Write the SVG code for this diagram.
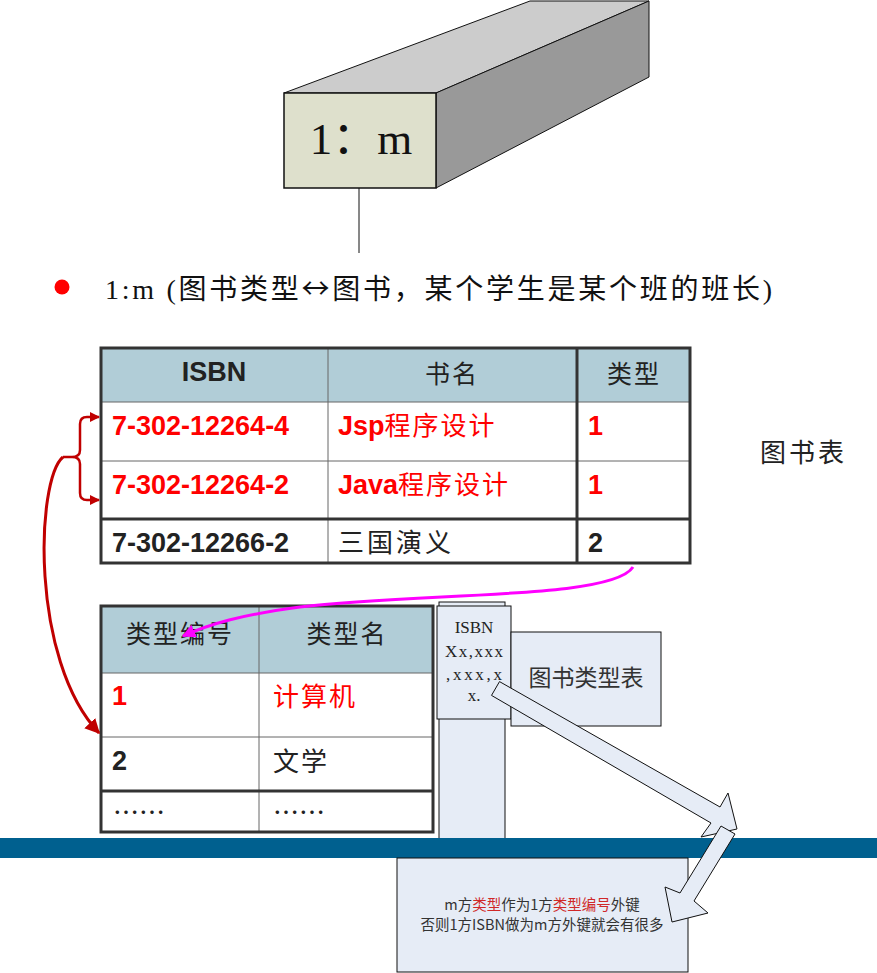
<svg xmlns="http://www.w3.org/2000/svg" width="877" height="973" viewBox="0 0 877 973">
<style>
.cjk{font-family:"Noto Sans CJK SC","Noto Sans",sans-serif}
.num{font-family:"Liberation Sans",Arial,"Noto Sans CJK SC",sans-serif;font-weight:bold;font-size:27px}
.red{fill:#ff0000}
.dark{fill:#222222}
.hdr{fill:#b1cdd7}
.thin{stroke:#666666;stroke-width:1;fill:none}
.thick{stroke:#333333;stroke-width:3;fill:none}
.pale{fill:#e6ecf6;stroke:#111111;stroke-width:1}
.ser{font-family:"Liberation Serif","Times New Roman","Noto Sans CJK SC",serif}
.note{font-family:"Noto Sans CJK SC","Noto Sans",sans-serif;font-size:14.5px;fill:#333333}
.nred{fill:#d02828}
</style>
<defs>
<marker id="arrRed" viewBox="0 0 10 10" refX="9" refY="5" markerWidth="5" markerHeight="5" orient="auto" markerUnits="strokeWidth">
<path d="M0,0 L10,5 L0,10 Z" fill="#c00000"/>
</marker>
<marker id="arrRedS" viewBox="0 0 10 10" refX="9" refY="5" markerWidth="4" markerHeight="4" orient="auto" markerUnits="strokeWidth">
<path d="M0,0 L10,5 L0,10 Z" fill="#c00000"/>
</marker>
<marker id="arrMag" viewBox="0 0 10 10" refX="9" refY="5" markerWidth="4.5" markerHeight="4.5" orient="auto" markerUnits="strokeWidth">
<path d="M0,0 L10,5 L0,10 Z" fill="#ff00ff"/>
</marker>
</defs>
<rect width="877" height="973" fill="#ffffff"/>

<g id="prism">
<polygon points="284,93 436,93 649,1 530,1" fill="#cccccc" stroke="#111" stroke-width="1"/>
<polygon points="436,93 649,1 649,77 436,188" fill="#999999" stroke="#111" stroke-width="1"/>
<rect x="284" y="93" width="152" height="95" fill="#dee0cc" stroke="#111" stroke-width="1.5"/>
<text x="361" y="154" text-anchor="middle" class="ser" font-size="45" fill="#111">1：m</text>
<line x1="359" y1="188" x2="359" y2="253" stroke="#111" stroke-width="1"/>
</g>

<g id="bullet">
<circle cx="62" cy="287" r="7.5" fill="#ff0000"/>
<text x="105" y="299" class="ser" font-size="28" fill="#111" textLength="667" lengthAdjust="spacing">1:m (图书类型<tspan class="cjk">↔</tspan>图书，某个学生是某个班的班长)</text>
</g>

<g id="table-books">
<rect x="101" y="348" width="589" height="54" class="hdr"/>
<rect x="101" y="402" width="589" height="161" fill="#ffffff"/>
<line x1="101" y1="402" x2="690" y2="402" class="thin"/>
<line x1="101" y1="461" x2="690" y2="461" class="thin"/>
<line x1="328" y1="348" x2="328" y2="563" class="thin"/>
<line x1="101" y1="519" x2="690" y2="519" class="thick"/>
<line x1="577" y1="348" x2="577" y2="563" class="thick"/>
<rect x="101" y="348" width="589" height="215" class="thick"/>
<text x="214" y="381" text-anchor="middle" class="num dark">ISBN</text>
<text x="452" y="383" text-anchor="middle" class="cjk dark" font-size="25" letter-spacing="2">书名</text>
<text x="634" y="383" text-anchor="middle" class="cjk dark" font-size="25" letter-spacing="2">类型</text>
<text x="112" y="435" class="num red">7-302-12264-4</text>
<text x="338" y="435" class="num red">Jsp<tspan class="cjk" font-weight="normal" font-size="26" letter-spacing="2">程序设计</tspan></text>
<text x="588" y="435" class="num red">1</text>
<text x="112" y="494" class="num red">7-302-12264-2</text>
<text x="338" y="494" class="num red">Java<tspan class="cjk" font-weight="normal" font-size="26" letter-spacing="2">程序设计</tspan></text>
<text x="588" y="494" class="num red">1</text>
<text x="112" y="552" class="num dark">7-302-12266-2</text>
<text x="338" y="552" class="cjk dark" font-size="26" letter-spacing="3">三国演义</text>
<text x="588" y="552" class="num dark">2</text>
</g>

<g id="label-books">
<text x="760" y="462" class="cjk dark" font-size="26" letter-spacing="3">图书表</text>
</g>

<g id="table-types">
<rect x="101" y="606" width="332" height="67" class="hdr"/>
<rect x="101" y="673" width="332" height="159" fill="#ffffff"/>
<line x1="101" y1="673" x2="433" y2="673" class="thin"/>
<line x1="101" y1="737" x2="433" y2="737" class="thin"/>
<line x1="259" y1="606" x2="259" y2="832" class="thin"/>
<line x1="101" y1="791" x2="433" y2="791" class="thick"/>
<rect x="101" y="606" width="332" height="226" class="thick"/>
<text x="180" y="643" text-anchor="middle" class="cjk dark" font-size="25" letter-spacing="2">类型编号</text>
<text x="347" y="643" text-anchor="middle" class="cjk dark" font-size="25" letter-spacing="2">类型名</text>
<text x="112" y="705" class="num red">1</text>
<text x="273" y="706" class="cjk red" font-size="26" letter-spacing="2">计算机</text>
<text x="112" y="770" class="num dark">2</text>
<text x="273" y="771" class="cjk dark" font-size="26" letter-spacing="2">文学</text>
<text x="113" y="822" class="cjk dark" font-size="26">……</text>
<text x="273" y="822" class="cjk dark" font-size="26">……</text>
</g>

<g id="isbn-note">
<rect x="439" y="602" width="66" height="237" class="pale"/>
<rect x="437" y="606" width="74" height="113" class="pale"/>
<text x="474" y="633" text-anchor="middle" class="ser" font-size="17" fill="#222">ISBN</text>
<text x="474" y="657" text-anchor="middle" class="ser" font-size="17" fill="#222" textLength="58" lengthAdjust="spacing">Xx,xxx</text>
<text x="474" y="680" text-anchor="middle" class="ser" font-size="17" fill="#222" textLength="56" lengthAdjust="spacing">,xxx,x</text>
<text x="474" y="701" text-anchor="middle" class="ser" font-size="17" fill="#222">x.</text>
</g>

<g id="type-table-label">
<rect x="511" y="632" width="150" height="94" class="pale"/>
<text x="586" y="686" text-anchor="middle" class="cjk" font-size="23" fill="#333">图书类型表</text>
</g>

<g id="band">
<rect x="0" y="838" width="877" height="20" fill="#00608f"/>
</g>

<g id="note">
<rect x="397" y="858" width="291" height="114" class="pale"/>
<text x="542" y="910" text-anchor="middle" class="note">m方<tspan class="nred">类型</tspan>作为1方<tspan class="nred">类型编号</tspan>外键</text>
<text x="542" y="930" text-anchor="middle" class="note">否则1方ISBN做为m方外键就会有很多</text>
</g>

<g id="connectors">
<path d="M97,417 L87,417 Q80,417 80,424 L80,450 Q80,457 72,457 L63,457 M63,457 L72,457 Q80,457 80,464 L80,493 Q80,500 87,500 L97,500" fill="none" stroke="#c00000" stroke-width="2.5"/>
<path d="M91,417 L99,417" stroke="#c00000" stroke-width="2.5" marker-end="url(#arrRedS)"/>
<path d="M91,500 L99,500" stroke="#c00000" stroke-width="2.5" marker-end="url(#arrRedS)"/>
<path d="M63,457 C36,480 30,660 99,733" fill="none" stroke="#c00000" stroke-width="3" marker-end="url(#arrRed)"/>
<path d="M633,567 C612,600 420,592 300,607 C240,615 210,624 183,636" fill="none" stroke="#ff00ff" stroke-width="3" marker-end="url(#arrMag)"/>
<polygon points="499.5,681.6 720,807 728,793 737,829 701,837 711,823 491.5,695.4" class="pale"/>
<polygon points="721,826 735,834 694,901 708,913 672,922 665,887 680,893" class="pale"/>
</g>
</svg>
